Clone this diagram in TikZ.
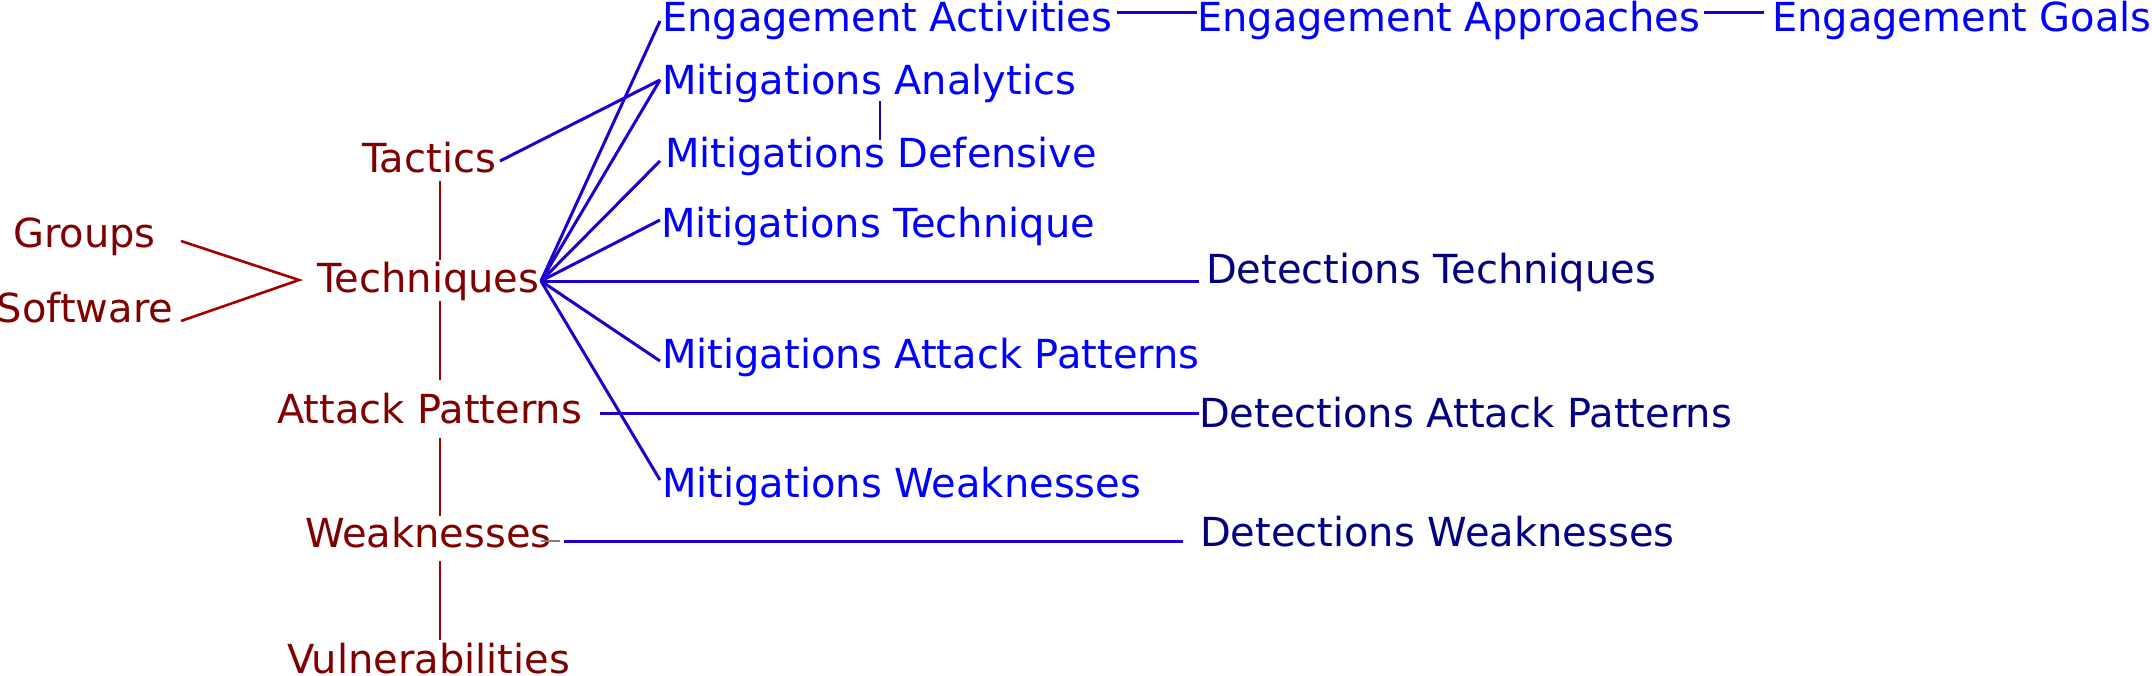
\documentclass[tikz,border=0pt]{standalone}
\usepackage{fontspec}
\setmainfont{DejaVu Sans}
\definecolor{tred}{RGB}{128,0,0}
\definecolor{lred}{RGB}{165,0,0}
\definecolor{tblue}{RGB}{0,0,255}
\definecolor{lblue}{RGB}{30,0,205}
\definecolor{tnavy}{RGB}{0,0,128}
\definecolor{lgrey}{RGB}{128,128,128}
\tikzset{
  lbl/.style={inner sep=0pt, outer sep=0pt, anchor=base west, font=\fontsize{40}{41}\selectfont},
  redlbl/.style={lbl, text=tred},
  bluelbl/.style={lbl, text=tblue},
  navylbl/.style={lbl, text=tnavy},
  redline/.style={draw=lred, line width=2.6pt},
  blueline/.style={draw=lblue, line width=3pt},
  greyline/.style={draw=lgrey, line width=2pt}
}
\begin{document}
\begin{tikzpicture}[x=1pt,y=-1pt]
\useasboundingbox (0,0) rectangle (2152,675);
% left (red) column
\node[redlbl] (g) at (13,247) {Groups};
\node[redlbl] (s) at (-3,322) {Software};
\node[redlbl] (tac) at (362,172) {Tactics};
\node[redlbl] (tech) at (317,292) {Techniques};
\node[redlbl] (ap) at (277,423) {Attack Patterns};
\node[redlbl] (w) at (305,547) {Weaknesses};
\node[redlbl] (v) at (287,673) {Vulnerabilities};
% blue column
\node[bluelbl] (ea) at (662,31) {Engagement Activities};
\node[bluelbl] (eap) at (1197,31) {Engagement Approaches};
\node[bluelbl] (eg) at (1772,31) {Engagement Goals};
\node[bluelbl] (ma) at (662,94) {Mitigations Analytics};
\node[bluelbl] (md) at (665,167) {Mitigations Defensive};
\node[bluelbl] (mt) at (661,237) {Mitigations Technique};
\node[bluelbl] (map) at (662,368) {Mitigations Attack Patterns};
\node[bluelbl] (mw) at (662,497) {Mitigations Weaknesses};
% detections
\node[navylbl] (dt) at (1206,283) {Detections Techniques};
\node[navylbl] (dap) at (1199,427) {Detections Attack Patterns};
\node[navylbl] (dw) at (1200,546) {Detections Weaknesses};
% hub points
\coordinate (hub) at ([shift={(224,-11)}]tech.base west);
\coordinate (conv) at ([shift={(-18,-12)}]tech.base west);
% red connectors
\draw[redline] ([shift={(168,-6)}]g.base west) -- (conv) -- ([shift={(184,-1)}]s.base west);
\draw[redline] ([shift={(78,9)}]tac.base west) -- ([shift={(123,-32)}]tech.base west);
\draw[redline] ([shift={(123,9)}]tech.base west) -- ([shift={(163,-43)}]ap.base west);
\draw[redline] ([shift={(163,15)}]ap.base west) -- ([shift={(135,-31)}]w.base west);
\draw[redline] ([shift={(135,14)}]w.base west) -- ([shift={(153,-33)}]v.base west);
% blue connectors
\draw[blueline] ([shift={(138,-11)}]tac.base west) -- ([shift={(-2,-14)}]ma.base west);
\draw[blueline] (hub) -- ([shift={(-2,-10)}]ea.base west);
\draw[blueline] (hub) -- ([shift={(-2,-14)}]ma.base west);
\draw[blueline] (hub) -- ([shift={(-5,-6)}]md.base west);
\draw[blueline] (hub) -- ([shift={(-1,-17)}]mt.base west);
\draw[blueline] (hub) -- ([shift={(-7,-2)}]dt.base west);
\draw[blueline] (hub) -- ([shift={(-2,-7)}]map.base west);
\draw[blueline] (hub) -- ([shift={(-2,-17)}]mw.base west);
\draw[blueline] ([shift={(323,-10)}]ap.base west) -- ([shift={(0,-14)}]dap.base west);
\draw[blueline] ([shift={(259,-6)}]w.base west) -- ([shift={(-17,-5)}]dw.base west);
\draw[greyline] ([shift={(236,-6)}]w.base west) -- ([shift={(255,-6)}]w.base west);
\draw[blueline] ([shift={(455,-19)}]ea.base west) -- ([shift={(0,-19)}]eap.base west);
\draw[blueline] ([shift={(507,-19)}]eap.base west) -- ([shift={(-8,-19)}]eg.base west);
\draw[blueline, line width=2.6pt] ([shift={(218,7)}]ma.base west) -- ([shift={(215,-27)}]md.base west);
\end{tikzpicture}
\end{document}
